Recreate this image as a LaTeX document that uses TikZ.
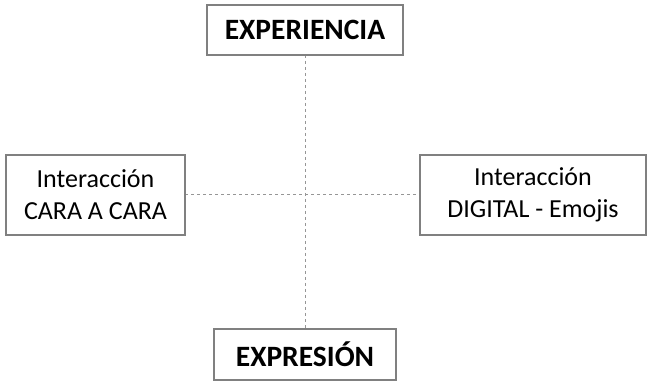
\documentclass[tikz,border=0pt]{standalone}
\usepackage{fontspec}
\setmainfont{Carlito}
\usetikzlibrary{calc}

\definecolor{boxgray}{RGB}{128,128,128}
\definecolor{linegray}{RGB}{150,150,150}

\tikzset{
  axisbox/.style={draw=boxgray, line width=1.3pt, fill=white, inner sep=0pt, align=center, font=\fontsize{26}{32}\selectfont},
  titlebox/.style={axisbox, font=\fontsize{29.5}{34}\selectfont\bfseries},
  axisline/.style={draw=linegray, line width=0.8pt, dash pattern=on 3pt off 3pt}
}

\begin{document}
\begin{tikzpicture}[x=1pt, y=-1pt]
\useasboundingbox (0,0) rectangle (651,382);

%the axes
\coordinate (top) at (305,55);
\coordinate (bot) at (305,329);
\coordinate (lft) at (185,194);
\coordinate (rgt) at (420,194);
\draw [axisline] (top) -- (bot);
\draw [axisline] (lft) -- (rgt);

%the boxes
\node [titlebox, minimum width=196pt, minimum height=50pt] (exp) at (305,30) {EXPERIENCIA};
\node [titlebox, minimum width=182pt, minimum height=51pt] (expr) at (305,354.5) {EXPRESIÓN};
\node [axisbox, minimum width=179pt, minimum height=80pt] (cara) at (95.5,195) {Interacción\\CARA A CARA};
\node [axisbox, minimum width=226pt, minimum height=80pt] (digital) at (533,195) {Interacción\\DIGITAL - Emojis};
\end{tikzpicture}
\end{document}
